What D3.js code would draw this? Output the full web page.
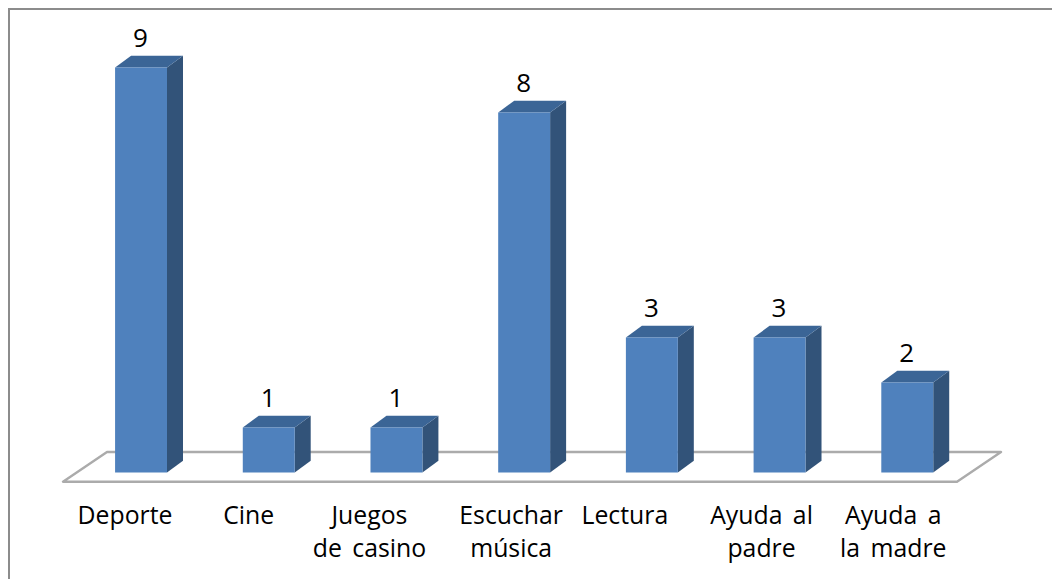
<!DOCTYPE html>
<html>
<head>
<meta charset="utf-8">
<script src="https://d3js.org/d3.v7.min.js"></script>
<style>
html, body { margin: 0; padding: 0; background: #fff; }
svg { display: block; }
</style>
</head>
<body>
<div id="mainContainer"></div>
<script>
var categories = ["Deporte", "Cine", "Juegos de casino", "Escuchar música", "Lectura", "Ayuda al padre", "Ayuda a la madre"];
var values = [9, 1, 1, 8, 3, 3, 2];
var labelLines = [["Deporte"], ["Cine"], ["Juegos", "de casino"], ["Escuchar", "música"], ["Lectura"], ["Ayuda al", "padre"], ["Ayuda a", "la madre"]];

var width = 1052, height = 579;
var depthX = 16, depthY = 11.7;
var labelShift = [-16, -20, -27, -13, -27, -18, -14];

var svg = d3.select('#mainContainer').append('svg')
    .attr('width', width)
    .attr('height', height);

svg.append('rect')
    .attr('x', 9).attr('y', 9)
    .attr('width', 1100).attr('height', 620)
    .attr('fill', 'none')
    .attr('stroke', '#8c8c8c')
    .attr('stroke-width', 2);

var xscale = d3.scaleBand()
    .domain(categories)
    .range([39.3, 1009])
    .padding(0.5934);

var yscale = d3.scaleLinear()
    .domain([0, 9])
    .range([472.5, 67.5]);

// floor
svg.append('path')
    .attr('d', 'M63,481.7 L957,481.7 L1001,452 L107,452 Z')
    .attr('fill', '#fff')
    .attr('stroke', '#ababab')
    .attr('stroke-width', 2.4)
    .attr('stroke-linejoin', 'round');

var g = svg.selectAll('g.bar')
    .data(categories)
    .enter().append('g')
    .attr('class', 'bar');

var bw = xscale.bandwidth();

// side
g.append('path')
    .attr('fill', '#325379')
    .attr('d', function(d, i) {
        var x = xscale(d) + bw, t = yscale(values[i]), b = yscale(0);
        return 'M' + x + ',' + t + ' L' + (x + depthX) + ',' + (t - depthY) +
            ' L' + (x + depthX) + ',' + (b - depthY) + ' L' + x + ',' + b + ' Z';
    });

// top
g.append('path')
    .attr('fill', '#3b6596')
    .attr('d', function(d, i) {
        var x = xscale(d), t = yscale(values[i]);
        return 'M' + x + ',' + t + ' L' + (x + depthX) + ',' + (t - depthY) +
            ' L' + (x + bw + depthX) + ',' + (t - depthY) + ' L' + (x + bw) + ',' + t + ' Z';
    });

// front
g.append('rect')
    .attr('fill', '#4f81bd')
    .attr('x', function(d) { return xscale(d); })
    .attr('y', function(d, i) { return yscale(values[i]); })
    .attr('width', bw)
    .attr('height', function(d, i) { return yscale(0) - yscale(values[i]); });

// value labels
g.append('text')
    .attr('x', function(d) { return xscale(d) + bw / 2 - 0.5; })
    .attr('y', function(d, i) { return yscale(values[i]) - 20.5; })
    .attr('text-anchor', 'middle')
    .attr('font-family', 'Open Sans')
    .attr('font-size', '26px')
    .attr('fill', '#000')
    .text(function(d, i) { return values[i]; });

// category labels
g.each(function(d, i) {
    var t = d3.select(this).append('text')
        .attr('text-anchor', 'middle')
        .attr('font-family', 'Open Sans')
        .attr('font-size', '24.8px')
        .attr('word-spacing', '4px')
        .attr('fill', '#000');
    labelLines[i].forEach(function(line, j) {
        t.append('tspan')
            .attr('x', xscale(d) + bw / 2 + labelShift[i])
            .attr('y', 524 + j * 33)
            .text(line);
    });
});
</script>
</body>
</html>
